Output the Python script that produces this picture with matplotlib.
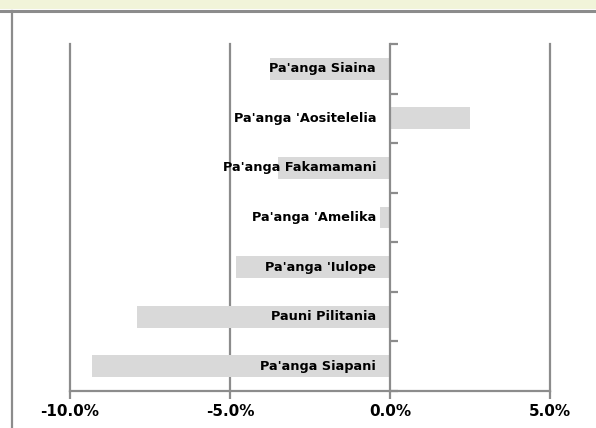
import matplotlib
matplotlib.use("Agg")
import matplotlib.pyplot as plt
from matplotlib.patches import Rectangle
from matplotlib.lines import Line2D
from matplotlib.ticker import FuncFormatter

categories = ["Pa'anga Siaina", "Pa'anga 'Aositelelia", "Pa'anga Fakamamani",
              "Pa'anga 'Amelika", "Pa'anga 'Iulope", "Pauni Pilitania", "Pa'anga Siapani"]
values = [-3.75, 2.5, -3.5, -0.3, -4.8, -7.9, -9.3]
xticks = [-10, -5, 0, 5]

W, H = 596, 428
fig = plt.figure(figsize=(W / 100, H / 100), dpi=100)
fig.patch.set_facecolor("white")

# top band and frame lines
fig.patches.append(Rectangle((0, 1 - 9 / H), 1, 9 / H, transform=fig.transFigure,
                             facecolor="#F1F4D9", edgecolor="none", zorder=0))
fig.lines.append(Line2D([0, 1], [1 - 10.5 / H, 1 - 10.5 / H], transform=fig.transFigure,
                        color="#8C8C8C", linewidth=2.2))
fig.lines.append(Line2D([11.5 / W, 11.5 / W], [0, 1 - 10.5 / H], transform=fig.transFigure,
                        color="#8C8C8C", linewidth=1.6))

ax = fig.add_axes([70 / W, 1 - 391 / H, 480 / W, 347 / H])
ax.set_facecolor("none")
n = len(categories)
pos = list(range(n))
ax.barh(pos, values, height=0.44, color="#D9D9D9", zorder=2)
ax.set_xlim(-10, 5)
ax.set_ylim(n - 0.5, -0.5)

for x in [-10, -5, 5]:
    ax.axvline(x, color="#8C8C8C", linewidth=1.6, zorder=1, clip_on=False)

for s in ["top", "right"]:
    ax.spines[s].set_visible(False)
ax.spines["left"].set_position(("data", 0))
ax.spines["left"].set_color("#8C8C8C")
ax.spines["left"].set_linewidth(1.6)
ax.spines["left"].set_zorder(3)
ax.spines["bottom"].set_color("#8C8C8C")
ax.spines["bottom"].set_linewidth(1.6)

ax.set_yticks([i - 0.5 for i in range(n + 1)])
ax.set_yticklabels([])
ax.tick_params(axis="y", direction="in", length=6, width=1.6, color="#8C8C8C")

ax.set_xticks(xticks)
ax.xaxis.set_major_formatter(FuncFormatter(lambda v, p: f"{v:.1f}%"))
ax.tick_params(axis="x", direction="out", length=6, width=1.6, color="#8C8C8C",
               labelsize=11, pad=3)
for lbl in ax.get_xticklabels():
    lbl.set_fontweight("bold")

for i, c in enumerate(categories):
    ax.annotate(c, (0, i), xytext=(-10, 0), textcoords="offset points",
                ha="right", va="center", fontsize=9.3, fontweight="bold",
                color="black", zorder=5)

fig.savefig("out.png", dpi=100)
